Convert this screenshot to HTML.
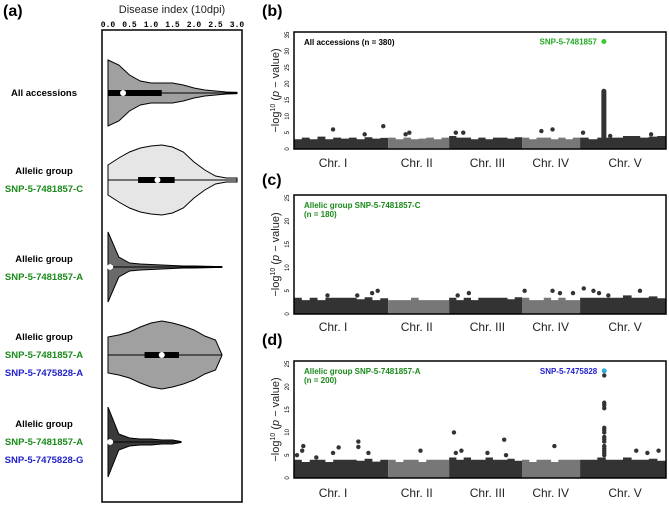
<!DOCTYPE html>
<html><head><meta charset="utf-8"><style>
body{margin:0;background:#fff;}
svg{display:block;font-family:"Liberation Sans",sans-serif;}
</style></head><body>
<svg id="fig" width="669" height="506"></svg>
<script>
// ---------- Violin data (a) ----------
const violinGroups = ["All accessions","SNP-5-7481857-C","SNP-5-7481857-A","SNP-5-7481857-A / SNP-5-7475828-A","SNP-5-7481857-A / SNP-5-7475828-G"];
const densityGrid = [0,0.25,0.5,0.75,1.0,1.25,1.5,1.75,2.0,2.25,2.5,2.75,3.0];
const densAll = [33,28,18,12,10,10,10,8,5,3,2,1,0.6];
const densC   = [15,22,28,32,34,35,33,28,18,10,4,2,2];
const densA   = [35,10,4,3,2.5,2,1.5,1,1,0.8,0.5,0,0];
const densAA  = [18,20,23,28,32,34,32,29,25,19,15,10,0];
const densAG  = [35,8,4,3,3,2,2,0,0,0,0,0,0];
const violinMax = [3.0,3.0,2.65,2.65,1.7];
const medians = [0.35,1.15,0.05,1.25,0.05];
const q1s = [0,0.7,0,0.85,0];
const q3s = [1.25,1.55,0.1,1.65,0.1];
const diseaseTicks = ["0.0","0.5","1.0","1.5","2.0","2.5","3.0"];

// ---------- Manhattan data ----------
const chromNames = ["Chr. I","Chr. II","Chr. III","Chr. IV","Chr. V"];
const chromBounds = [0,0.253,0.417,0.613,0.769,1.0];
const bandB = [[3,3.5,3,3.8,3,3.5,3.2,3.5,3,3.6,3.2,3.4],[3.5,3,3.5,3,3.2,3.5,3,3.5],[4,3.5,3.5,3,3.5,3,3.5,3.5,3.2,3.6],[3.5,3,3.5,3.5,3,3.5,3,3.5],[3.5,3,3.5,3.5,3.5,4,4,3.5,3.8,4]];
const bandC = [[3.5,3,3.5,3,3.5,3.5,3.5,3.5,3.2,3.6,3,3.4],[3,3,3,3.5,3,3,3,3],[3.5,3,3.5,3,3.5,3.5,3.5,3.5,3.2,3.6],[3.5,3,3,3.5,3,3.5,3,3],[3.5,3.5,3.5,3.5,3.5,4,3.5,3.5,3.8,3.4]];
const bandD = [[4,3.5,4,4,3.5,4,4,4,3.8,4.2,3.6,4],[4,3.5,4,4,3.5,4,4,4],[4.5,4,4.5,4,4,4.5,4,4,4.2,3.8],[4,3.5,4,4,3.5,4,4,4],[4,4,4.5,4,4,4.5,4,4,4.2,3.8]];
const ptsBpos = [0.105,0.19,0.24,0.30,0.31,0.435,0.455,0.665,0.695,0.777,0.85,0.96];
const ptsBval = [6,4.5,7,4.5,5,5,5,5.5,6,5,4,4.5];
const peakBpos = 0.833, peakBlow = 3, peakBhigh = 18.5;
const ptsCpos = [0.09,0.17,0.21,0.225,0.44,0.47,0.62,0.695,0.715,0.75,0.779,0.805,0.82,0.845,0.93];
const ptsCval = [4,4,4.5,5,4,4.5,5,5,4.5,4.5,5.5,5,4.5,4,5];
const ptsDpos = [0.008,0.022,0.025,0.06,0.105,0.12,0.173,0.173,0.2,0.34,0.43,0.435,0.45,0.52,0.565,0.57,0.7,0.834,0.834,0.834,0.834,0.834,0.834,0.834,0.834,0.834,0.834,0.834,0.834,0.834,0.834,0.834,0.92,0.95,0.98];
const ptsDval = [5,6,7,4.5,5.5,6.7,8,6.8,5.5,6,10,5.5,6,5.5,8.4,5,7,5,5.5,6,6.5,7,8,8.5,9,10,10.5,11,15.3,16,16.5,22.5,6,5.5,6];
const topB = {pos:0.833, val:33, label:"SNP-5-7481857", color:"#33cc33"};
const topD = {pos:0.834, val:23.5, label:"SNP-5-7475828", color:"#33aadd"};

const NS="http://www.w3.org/2000/svg";
const svg=document.getElementById('fig');
function mk(tag,attrs,parent){const e=document.createElementNS(NS,tag);for(const k in attrs)e.setAttribute(k,attrs[k]);(parent||svg).appendChild(e);return e;}
function txt(s,attrs,parent){const e=mk('text',attrs,parent);e.textContent=s;return e;}

// ---------- Panel a ----------
const ax0=108, ax1=237;
const xD=v=>ax0+(v/3)*(ax1-ax0);
const centers=[93,180,267,355,442];
const dens=[densAll,densC,densA,densAA,densAG];
const fills=["#a0a0a0","#e6e6e6","#6a6a6a","#a0a0a0","#3a3a3a"];
let l=txt("(a)",{x:3,y:16,"font-size":16,"font-weight":"bold"});

l=txt("Disease index (10dpi)",{x:172,y:13,"font-size":11,"text-anchor":"middle",fill:"#222"});

diseaseTicks.forEach((t,i)=>{const e=txt(t,{x:xD(+t),y:27,"font-size":8,"font-weight":"bold","text-anchor":"middle","font-family":"Liberation Mono, monospace"});
});
const boxA=mk('rect',{x:102,y:30,width:140,height:472,fill:"none",stroke:"#000","stroke-width":1.5});

dens.forEach((d,g)=>{
  const cy=centers[g];let top=[],bot=[];
  densityGrid.forEach((v,i)=>{if(v>violinMax[g]+1e-9)return;top.push([xD(v),cy-d[i]]);bot.push([xD(v),cy+d[i]]);});
  const last=violinMax[g];
  if(densityGrid.indexOf(last)<0){top.push([xD(last),cy-0.5]);bot.push([xD(last),cy+0.5]);}
  const pts=top.concat(bot.reverse());
  let p="M"+pts.map(q=>q[0].toFixed(1)+","+q[1].toFixed(1)).join(" L")+"Z";
  const v=mk('path',{d:p,fill:fills[g],stroke:"#000","stroke-width":1});
  
  const w=mk('line',{x1:xD(0),x2:xD(violinMax[g]),y1:cy,y2:cy,stroke:"#000","stroke-width":1});
  
  const b=mk('rect',{x:xD(q1s[g]),y:cy-3,width:Math.max(xD(q3s[g])-xD(q1s[g]),3),height:6,fill:"#000"});
  
  const m=mk('circle',{cx:xD(medians[g]),cy:cy,r:3,fill:"#fff"});
  
});
const G="#1a8a1a",B="#2222cc";
const lbls=[["All accessions",93,"#000"],["Allelic group",171,"#000"],["SNP-5-7481857-C",189,G],["Allelic group",259,"#000"],["SNP-5-7481857-A",277,G],
["Allelic group",337,"#000"],["SNP-5-7481857-A",355,G],["SNP-5-7475828-A",373,B],["Allelic group",424,"#000"],["SNP-5-7481857-A",442,G],["SNP-5-7475828-G",460,B]];
lbls.forEach(a=>{const e=txt(a[0],{x:44,y:a[1]+3,"font-size":9.5,"font-weight":"bold","text-anchor":"middle",fill:a[2]});
});

// ---------- Manhattan panels ----------
const px0=294, px1=666;
function manhattan(name,letter,letterY,top,bottom,ymax,ticks,band,ppos,pval,title,titleColor,hit,chrY,peak){
  const yv=v=>bottom-(v/ymax)*(bottom-top-3);
  const xv=f=>px0+f*(px1-px0);
  let e=txt(letter,{x:262,y:letterY,"font-size":16,"font-weight":"bold"});
  
  const g=mk('g',{});
  band.forEach((hs,c)=>{
    const a=chromBounds[c],b=chromBounds[c+1];let d="M"+xv(a)+","+bottom;
    hs.forEach((h,i)=>{const xa=xv(a+(b-a)*i/hs.length),xb=xv(a+(b-a)*(i+1)/hs.length);d+=" L"+xa.toFixed(1)+","+yv(h).toFixed(1)+" L"+xb.toFixed(1)+","+yv(h).toFixed(1);});
    d+=" L"+xv(b)+","+bottom+"Z";
    const p=mk('path',{d:d,fill:c%2?"#777":"#333"},g);
    
  });
  if(peak){const r=mk('rect',{x:xv(peak[0])-2.5,y:yv(peak[2]),width:5,height:yv(peak[1])-yv(peak[2]),rx:2.5,fill:"#333"},g);
    }
  ppos.forEach((f,i)=>{const c=mk('circle',{cx:xv(f),cy:yv(pval[i]),r:2.2,fill:"#333"},g);
    });
  if(hit){const c=mk('circle',{cx:xv(hit.pos),cy:yv(hit.val),r:2.5,fill:hit.color},g);
    
    const t=txt(hit.label,{x:xv(hit.pos)-7,y:yv(hit.val)+3,"font-size":8,"font-weight":"bold","text-anchor":"end",fill:hit===topB?"#22aa22":"#2222cc"},g);
    }
  const r=mk('rect',{x:px0,y:top,width:px1-px0,height:bottom-top,fill:"none",stroke:"#000","stroke-width":1.5});
  
  ticks.forEach(t=>{const y=yv(t);const e=txt(String(t),{x:0,y:0,"font-size":6,"text-anchor":"middle",transform:`translate(289,${y}) rotate(-90)`});
    });
  const mid=(top+bottom)/2;
  const at=mk('text',{x:0,y:0,"font-size":11,"text-anchor":"middle",transform:`translate(279,${mid}) rotate(-90)`,fill:"#222"});
  at.innerHTML='−log<tspan font-size="7" dy="-4">10</tspan><tspan dy="4"> (</tspan><tspan font-style="italic">p</tspan> − value)';
  
  title.forEach((s,i)=>{const e=txt(s,{x:px0+10,y:top+13+i*9,"font-size":8,"font-weight":"bold",fill:titleColor});
    });
  chromNames.forEach((n,i)=>{const f=[0.105,0.33,0.52,0.69,0.89][i];
    const e=txt(n,{x:xv(f),y:chrY,"font-size":12,"text-anchor":"middle",fill:"#222"});
    });
}
manhattan('panel-b','(b)',16,32,149,35,[0,5,10,15,20,25,30,35],bandB,ptsBpos,ptsBval,["All accessions (n = 380)"],"#000",topB,167,[peakBpos,peakBlow,peakBhigh]);
manhattan('panel-c','(c)',185,195,314,25,[0,5,10,15,20,25],bandC,ptsCpos,ptsCval,["Allelic group SNP-5-7481857-C","(n = 180)"],G,null,331,null);
manhattan('panel-d','(d)',345,361,478,25,[0,5,10,15,20,25],bandD,ptsDpos,ptsDval,["Allelic group SNP-5-7481857-A","(n = 200)"],G,topD,497,null);
</script>
</body></html>
